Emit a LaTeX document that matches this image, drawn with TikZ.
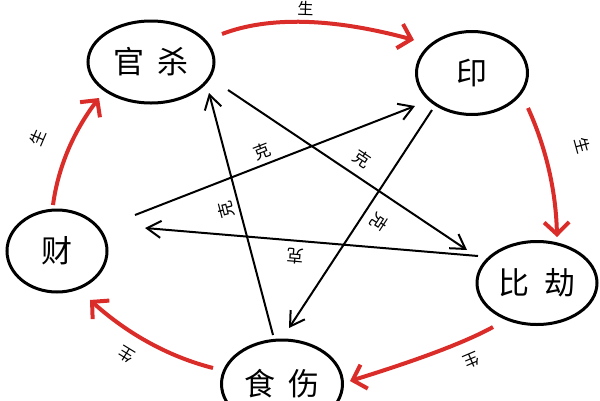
\documentclass[tikz,border=0pt]{standalone}
\usepackage{fontspec}
\newfontfamily\cjk{Noto Sans CJK SC}
\usetikzlibrary{arrows.meta,shapes.geometric}
\definecolor{shengred}{RGB}{218,44,40}
\begin{document}
\begin{tikzpicture}[x=1pt,y=-1pt,
  elem/.style={draw=black, line width=3pt, ellipse, inner sep=0pt, font=\cjk\fontsize{31}{31}\selectfont},
  keline/.style={draw=black, line width=2pt, -{Straight Barb[length=14pt,width=17pt]}},
  shengline/.style={draw=shengred, line width=4pt, -{Straight Barb[length=12pt,width=25pt]}},
  kelabel/.style={font=\cjk\fontsize{17}{17}\selectfont, sloped, allow upside down, inner sep=1pt},
  shenglabel/.style={font=\cjk\fontsize{16}{16}\selectfont, sloped, allow upside down, inner sep=1pt}
]
\useasboundingbox[fill=white] (0,0) rectangle (600,400);

% elements
\node[elem, minimum width=126pt, minimum height=82pt] (gs) at (151,62) {官\hspace{0.4em}杀};
\node[elem, minimum width=111pt, minimum height=83pt] (yin) at (472,73) {印};
\node[elem, minimum width=100pt, minimum height=82pt] (cai) at (57,251) {财};
\node[elem, minimum width=120pt, minimum height=83pt] (bj) at (537,283) {比\hspace{0.5em}劫};
\node[elem, minimum width=121pt, minimum height=88pt] (ss) at (282,384) {食\hspace{0.45em}伤};

% star (ke) endpoints
\coordinate (k1s) at (228,90);  \coordinate (k1e) at (467,250);
\coordinate (k2s) at (432,110); \coordinate (k2e) at (289,328);
\coordinate (k3s) at (478,256); \coordinate (k3e) at (145,228);
\coordinate (k4s) at (273,335); \coordinate (k4e) at (209,93);
\coordinate (k5s) at (135,215); \coordinate (k5e) at (415,106);

\draw[keline] (k1s) -- node[kelabel, pos=0.52, above=8pt] (kl1) {克} (k1e);
\draw[keline] (k2s) -- node[kelabel, pos=0.47, above=8pt] (kl2) {克} (k2e);
\draw[keline] (k3s) -- node[kelabel, pos=0.545, above=6pt] (kl3) {克} (k3e);
\draw[keline] (k4s) -- node[kelabel, pos=0.53, above=4pt] (kl4) {克} (k4e);
\draw[keline] (k5s) -- node[kelabel, pos=0.47, above=3pt] (kl5) {克} (k5e);

% sheng arcs
\coordinate (s1s) at (222,34);  \coordinate (s1e) at (414,40);
\coordinate (s2s) at (528,108); \coordinate (s2e) at (557,237);
\coordinate (s3s) at (493,327); \coordinate (s3e) at (350,381);
\coordinate (s4s) at (213,368); \coordinate (s4e) at (90,300);
\coordinate (s5s) at (53,205);  \coordinate (s5e) at (99,98);

\draw[shengline] (s1s) .. controls (269,16) and (333,18) .. node[shenglabel, pos=0.5, above=3pt] (sl1) {生} (s1e);
\draw[shengline] (s2s) .. controls (547,150) and (556,193) .. node[shenglabel, pos=0.38, above=29pt] (sl2) {生} (s2e);
\draw[shengline] (s3s) .. controls (466,342) and (418,360) .. node[shenglabel, pos=0.3, above=11pt] (sl3) {生} (s3e);
\draw[shengline] (s4s) .. controls (170,357) and (129,335) .. node[shenglabel, pos=0.6, above=12pt] (sl4) {生} (s4e);
\draw[shengline] (s5s) .. controls (58,168) and (73,132) .. node[shenglabel, pos=0.5, above=23pt] (sl5) {生} (s5e);
\end{tikzpicture}
\end{document}
